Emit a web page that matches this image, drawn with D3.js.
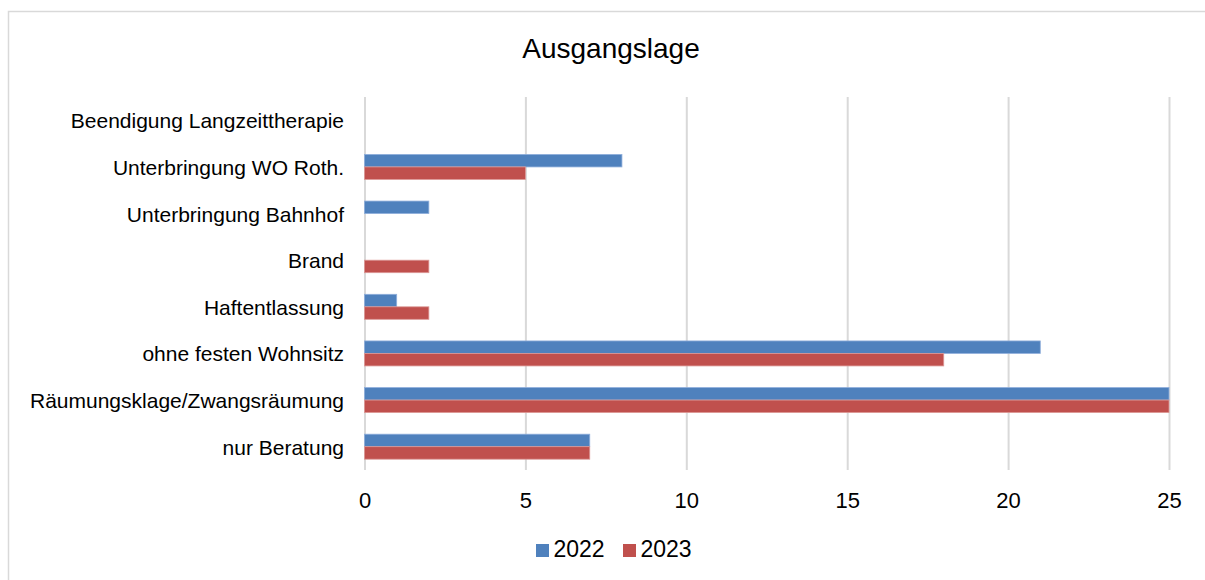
<!DOCTYPE html>
<html><head><meta charset="utf-8">
<script src="https://cdn.jsdelivr.net/npm/d3@7"></script>
<style>body{margin:0;background:#fff}svg{display:block}text{font-family:"Liberation Sans",Arial,sans-serif;fill:#000}</style>
</head><body><div id="c"></div>
<script>
const categories = ["Beendigung Langzeittherapie","Unterbringung WO Roth.","Unterbringung Bahnhof","Brand","Haftentlassung","ohne festen Wohnsitz","Räumungsklage/Zwangsräumung","nur Beratung"];
const seriesNames = ["2022","2023"];
const values2022 = [0,8,2,0,1,21,25,7];
const values2023 = [0,5,0,2,2,18,25,7];
const xTicks = [0,5,10,15,20,25];
const colors = ["#4F81BD","#C0504D"];
const strokes = ["#8FAEDB","#DC9896"];

const W=1205,H=580;
const svg=d3.select("#c").append("svg").attr("width",W).attr("height",H);
svg.append("rect").attr("x",8.5).attr("y",11.5).attr("width",1210).attr("height",600).attr("fill","#fff").attr("stroke","#d9d9d9").attr("stroke-width",1.5);

const x=d3.scaleLinear().domain([0,25]).range([364.5,1169]);
const y=d3.scaleBand().domain(categories).range([97,470]);
const y2=d3.scaleBand().domain(seriesNames).range([0,25]);

svg.append("text").attr("x",611).attr("y",58).attr("text-anchor","middle").style("font-size","28px").text("Ausgangslage");

const xAxis=svg.append("g").attr("transform","translate(0,470)")
  .call(d3.axisBottom(x).tickValues(xTicks).tickSize(-373).tickPadding(22));
xAxis.select(".domain").remove();
xAxis.selectAll("line").attr("stroke","#d9d9d9").attr("stroke-width",2);
xAxis.selectAll("text").style("font-size","22px").style("font-family","Liberation Sans,Arial,sans-serif").attr("fill","#000");

const yAxis=svg.append("g").attr("transform","translate(344,0)")
  .call(d3.axisLeft(y).tickSize(0).tickPadding(0));
yAxis.select(".domain").remove();
yAxis.selectAll("text").style("font-size","21px").style("font-family","Liberation Sans,Arial,sans-serif").attr("fill","#000").attr("dy","0.38em");

const data=[values2022,values2023];
const bandOff=(y.bandwidth()-25)/2;
seriesNames.forEach((s,i)=>{
  svg.append("g").selectAll("rect").data(categories).join("rect")
    .filter((c,j)=>data[i][j]>0)
    .attr("x",x(0)).attr("y",(c)=>y(c)+bandOff+y2(s))
    .attr("width",(c)=>x(data[i][categories.indexOf(c)])-x(0))
    .attr("height",y2.bandwidth())
    .attr("fill",colors[i]).attr("stroke",strokes[i]).attr("stroke-width",0.8);
});

const leg=svg.append("g");
const legX=[536,623];
seriesNames.forEach((s,i)=>{
  leg.append("rect").attr("x",legX[i]).attr("y",544).attr("width",13).attr("height",13).attr("fill",colors[i]);
  leg.append("text").attr("x",legX[i]+17.5).attr("y",557).style("font-size","23px").text(s);
});
</script></body></html>
